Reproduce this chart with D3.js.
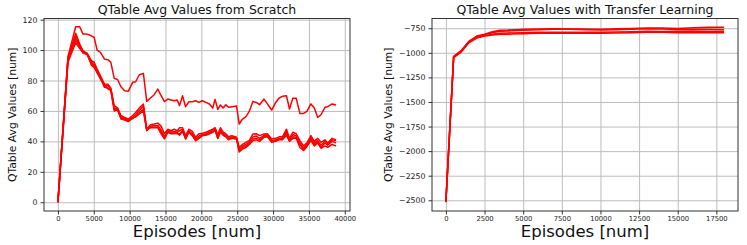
<!DOCTYPE html>
<html>
<head>
<meta charset="utf-8">
<script src="https://cdn.jsdelivr.net/npm/d3@7"></script>
<style>
  body { margin: 0; background: #fff; }
  svg { display: block; font-family: "DejaVu Sans", sans-serif; }
  .tick text { fill: #222; }
</style>
</head>
<body>
<script>
// --- scratch run: episodes and 5 runs ---
var scratchEpisodes = [0, 1400, 2480, 3040, 3500, 4070, 4670, 5050, 5470, 5930,
  6500, 7000, 7380, 7850, 8320, 8790, 9300, 9810, 10420, 10840,
  11360, 11920, 12380, 12900, 13400, 13930, 14390, 14860, 15330, 15800,
  16220, 16640, 16960, 17380, 17800, 18270, 18740, 19210, 19670, 20140,
  20650, 21120, 21590, 21920, 22290, 22660, 23040, 23410, 23790, 24250,
  24910, 25280, 25750, 26220, 26680, 27200, 27660, 28130, 28740, 29210,
  29810, 30370, 30840, 31310, 31870, 32290, 32760, 33230, 33740, 34250,
  34720, 35280, 35750, 36220, 36680, 37240, 37620, 38230, 38790];

var scratchRun1 = [0, 95.6, 115.3, 115.3, 110.5, 110.5, 109.4, 108.3, 100, 98.5,
  94, 93.7, 91.9, 81.4, 80.7, 75.9, 73.3, 72.9, 78.8, 79.2,
  83.8, 84.7, 66.3, 68.5, 70.5, 74.4, 70, 66.1, 67.8, 67.2,
  66.7, 67.2, 63.5, 70, 62.8, 66.1, 66.1, 66.7, 65.6, 66.7,
  65.6, 64.6, 61.9, 67.6, 61, 63.9, 61.9, 64.1, 62.4, 62.8,
  63.2, 51.4, 54.7, 56.2, 59.7, 66.3, 65.6, 64.1, 67.8, 64.6,
  60.6, 65.6, 68.5, 69.6, 70, 61.3, 68.3, 68.3, 58.4, 58.4,
  59.7, 64.6, 61.9, 55.8, 57.5, 62.4, 62.8, 64.6, 63.9];
var scratchRun2 = [0, 95, 111, 104, 99.5, 98, 93, 92, 87.5, 83,
  77.7, 77.5, 75, 63.5, 62, 57, 55.8, 54.7, 57, 59,
  62, 64.5, 48, 51, 51.4, 52, 50, 45, 48, 47,
  48, 47, 49, 49, 43.8, 48, 46.6, 42.7, 45, 45.3,
  46, 47, 48, 49, 44.4, 49, 46, 45, 43, 43.8,
  42.7, 36, 38, 39.4, 40.5, 44.9, 45, 43.8, 44.9, 45,
  41.6, 42, 43, 43, 48, 42, 46, 45, 40.5, 37,
  39, 43.8, 40, 42, 39.4, 41, 39, 42, 41];
var scratchRun3 = [0, 94, 109, 103, 99, 97.5, 92, 90.5, 86.5, 82,
  76.5, 76.5, 74.5, 62, 61.5, 56, 55, 54, 56, 57.5,
  60.5, 63, 47.5, 50, 50.5, 50.5, 47.5, 43, 47, 46,
  46.5, 46, 47, 48, 42.5, 47, 45, 41.5, 43.5, 44.5,
  45, 46, 47, 48.5, 43, 47.5, 45, 44, 42, 43,
  42, 35, 37, 38, 39.5, 43, 43.5, 42, 44, 44,
  40.5, 41, 42, 42, 46.5, 41, 44.5, 43.5, 39, 35.5,
  38, 42.5, 39, 40.5, 37.5, 40, 38.5, 41, 40.5];
var scratchRun4 = [0, 93, 107, 102, 98, 97, 91, 89.5, 85.5, 81.5,
  75.5, 75, 74, 61, 60.5, 55.5, 54.5, 53.5, 55, 56.5,
  59, 61, 47, 49.5, 49.5, 49.5, 46, 42, 46.5, 45.5,
  45.5, 45, 45, 47, 42, 46.5, 44, 40.5, 42.5, 44,
  44.5, 45.5, 46, 47.5, 42, 46.5, 44.5, 43.5, 41.5, 42.5,
  41.5, 34, 36, 37, 38.5, 41.5, 42, 41, 43, 43.5,
  40, 40.5, 41.5, 41.5, 45, 40.5, 43, 42.5, 38, 34.5,
  37.5, 41.5, 38, 39.5, 36, 39, 37.5, 40, 39];
var scratchRun5 = [0, 92, 105, 101, 98.5, 97.8, 90, 88.6, 85, 81,
  77, 74.4, 73.5, 60, 61, 54.7, 54, 53, 55.5, 56,
  58, 60, 48, 49, 49, 49, 45, 41.6, 46, 45,
  45, 45.5, 44, 46.6, 41.5, 46, 43.8, 40.5, 42, 43.8,
  44, 45, 46, 47.5, 42, 46, 44, 43, 41, 42,
  41.5, 33, 35, 36, 38, 40.5, 41, 40, 42.7, 43,
  39.4, 40, 41, 41, 44, 40, 42, 42, 36, 34,
  36.5, 40.5, 37, 39, 35.5, 37, 36, 38, 37];

// --- transfer learning run ---
var transferEpisodes = [0, 500, 1000, 1500, 2000, 2500, 3000, 3500, 4000, 5000,
  6000, 7000, 8000, 9000, 10000, 11000, 12000, 13000, 14000, 15000,
  16000, 17000, 18000];
var transferRun1 = [-2505, -1035, -975, -880, -830, -810, -785, -770, -768, -760,
  -757, -755, -757, -758, -760, -755, -752, -748, -748, -752, -745, -740, -740];
var transferRun2 = [-2510, -1040, -980, -885, -835, -815, -795, -780, -778, -770,
  -765, -760, -760, -765, -768, -765, -760, -755, -758, -762, -760, -760, -762];
var transferRun3 = [-2515, -1045, -985, -890, -845, -825, -810, -800, -798, -795,
  -792, -790, -792, -790, -790, -788, -785, -780, -782, -780, -778, -780, -780];
var transferRun4 = [-2520, -1050, -990, -895, -850, -830, -818, -812, -810, -805,
  -802, -800, -800, -800, -802, -798, -795, -790, -792, -795, -793, -795, -795];

var scratchXTicks = [0, 5000, 10000, 15000, 20000, 25000, 30000, 35000, 40000];
var scratchYTicks = [0, 20, 40, 60, 80, 100, 120];
var transferXTicks = [0, 2500, 5000, 7500, 10000, 12500, 15000, 17500];
var transferYTicks = [-2500, -2250, -2000, -1750, -1500, -1250, -1000, -750];

var svg = d3.select("body").append("svg")
    .attr("width", 747)
    .attr("height", 245);

function drawPanel(opt) {
  var x = d3.scaleLinear().domain(opt.xDomain).range([opt.left, opt.right]);
  var y = d3.scaleLinear().domain(opt.yDomain).range([opt.bottom, opt.top]);
  var w = opt.right - opt.left, h = opt.bottom - opt.top;

  // grid
  svg.append("g")
      .attr("transform", "translate(0," + opt.bottom + ")")
      .call(d3.axisBottom(x).tickValues(opt.xTicks).tickSize(-h).tickFormat(""))
      .call(function(g) { g.select(".domain").remove(); })
      .selectAll("line").attr("stroke", "#bdbdbd");
  svg.append("g")
      .attr("transform", "translate(" + opt.left + ",0)")
      .call(d3.axisLeft(y).tickValues(opt.yTicks).tickSize(-w).tickFormat(""))
      .call(function(g) { g.select(".domain").remove(); })
      .selectAll("line").attr("stroke", "#bdbdbd");

  // lines
  var line = d3.line()
      .x(function(d) { return x(d[0]); })
      .y(function(d) { return y(d[1]); });
  opt.runs.forEach(function(run) {
    var pts = opt.episodes.map(function(e, i) { return [e, run[i]]; });
    svg.append("path")
        .datum(pts)
        .attr("fill", "none")
        .attr("stroke", "#ff0000")
        .attr("stroke-width", 1.5)
        .attr("stroke-linejoin", "round")
        .attr("d", line);
  });

  // frame
  svg.append("rect")
      .attr("x", opt.left).attr("y", opt.top)
      .attr("width", w).attr("height", h)
      .attr("fill", "none").attr("stroke", "#333").attr("stroke-width", 1);

  // axes
  var xa = svg.append("g")
      .attr("transform", "translate(0," + opt.bottom + ")")
      .call(d3.axisBottom(x).tickValues(opt.xTicks).tickSize(3.5).tickPadding(2).tickFormat(d3.format("d")));
  var ya = svg.append("g")
      .attr("transform", "translate(" + opt.left + ",0)")
      .call(d3.axisLeft(y).tickValues(opt.yTicks).tickSize(3.5).tickPadding(3).tickFormat(d3.format("d")));
  [xa, ya].forEach(function(a) {
    a.select(".domain").remove();
    a.selectAll("line").attr("stroke", "#333");
    a.selectAll("text").attr("font-family", "DejaVu Sans");
  });
  xa.selectAll("text").attr("font-size", "6.8px");
  ya.selectAll("text").attr("font-size", "7.8px");

  // labels
  svg.append("text")
      .attr("x", (opt.left + opt.right) / 2).attr("y", 14)
      .attr("text-anchor", "middle")
      .attr("font-size", "12.5px").attr("fill", "#111")
      .text(opt.title);
  svg.append("text")
      .attr("x", (opt.left + opt.right) / 2).attr("y", 237)
      .attr("text-anchor", "middle")
      .attr("font-size", "16.5px").attr("fill", "#111")
      .text("Episodes [num]");
  svg.append("text")
      .attr("transform", "translate(" + opt.yLabelX + "," + (opt.top + opt.bottom) / 2 + ") rotate(-90)")
      .attr("text-anchor", "middle")
      .attr("dy", "0.35em")
      .attr("font-size", "10.8px").attr("fill", "#111")
      .text("QTable Avg Values [num]");
}

drawPanel({
  left: 44, right: 350, top: 18.5, bottom: 211,
  xDomain: [-1940, 40730], yDomain: [-5.75, 120.75],
  xTicks: scratchXTicks, yTicks: scratchYTicks,
  episodes: scratchEpisodes,
  runs: [scratchRun1, scratchRun2, scratchRun3, scratchRun4, scratchRun5],
  title: "QTable Avg Values from Scratch",
  yLabelX: 12
});

drawPanel({
  left: 432, right: 738, top: 18.5, bottom: 211,
  xDomain: [-900, 18900], yDomain: [-2609, -651],
  xTicks: transferXTicks, yTicks: transferYTicks,
  episodes: transferEpisodes,
  runs: [transferRun1, transferRun2, transferRun3, transferRun4],
  title: "QTable Avg Values with Transfer Learning",
  yLabelX: 388
});
</script>
</body>
</html>
